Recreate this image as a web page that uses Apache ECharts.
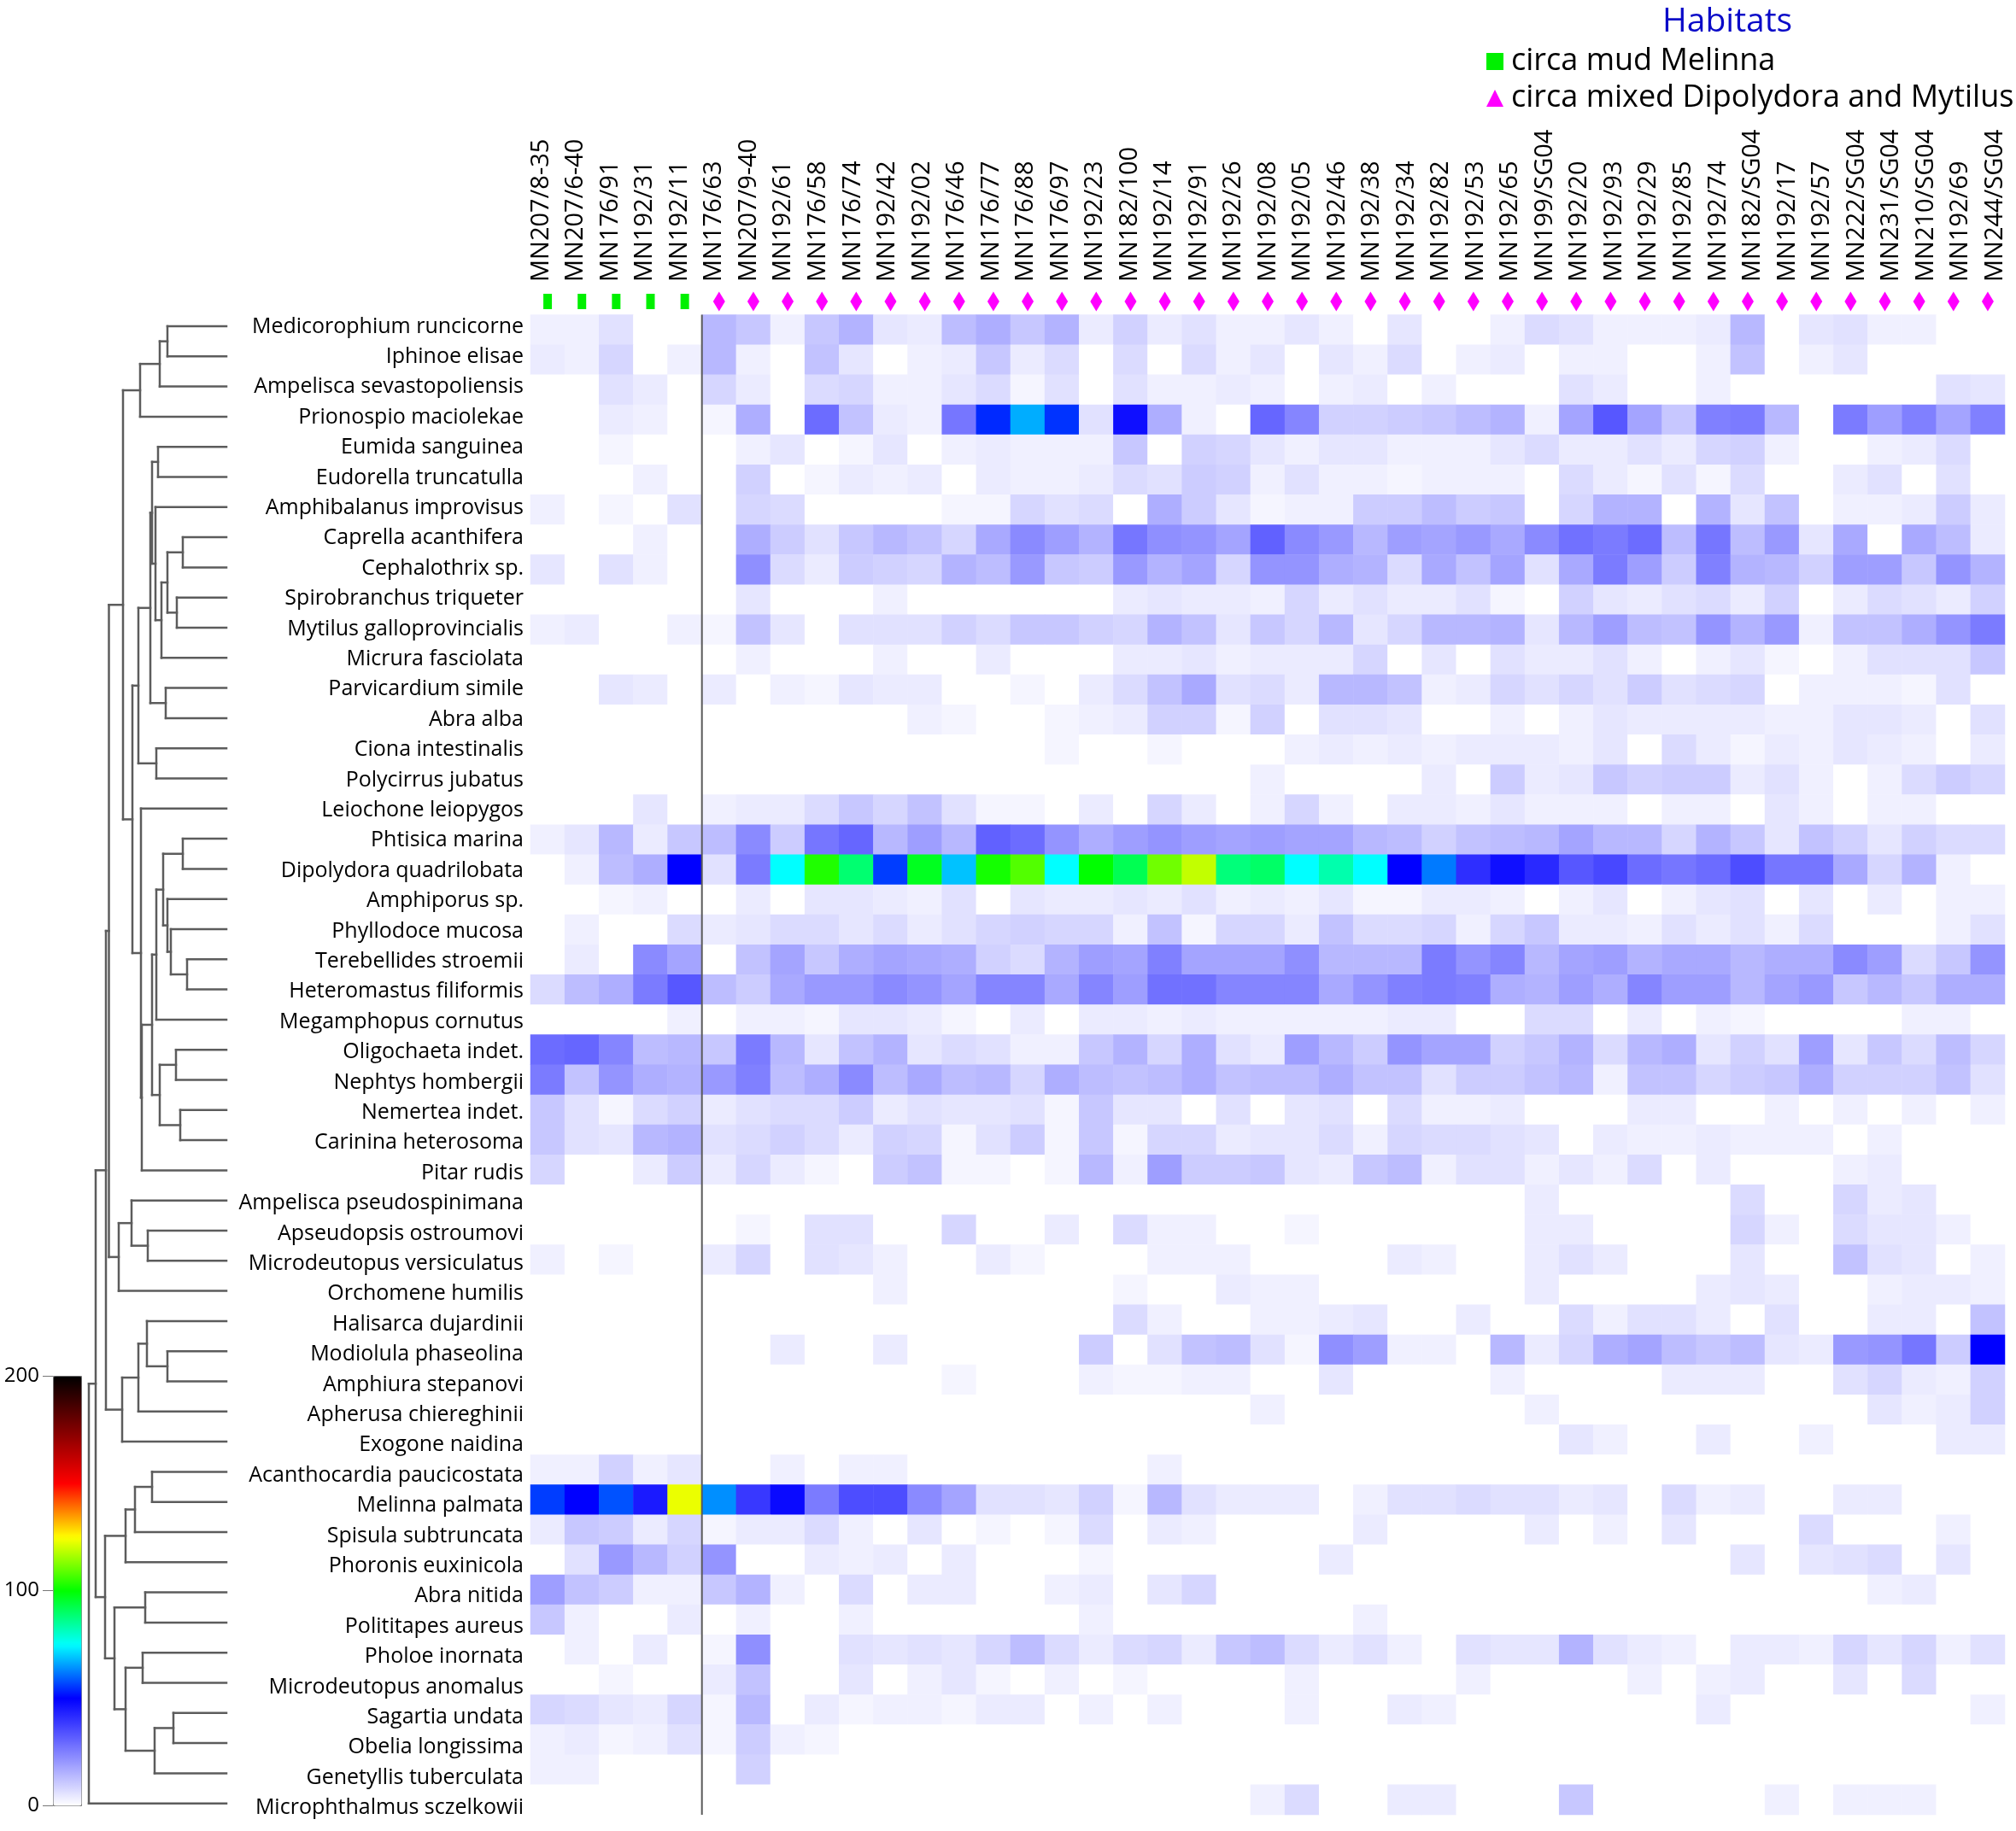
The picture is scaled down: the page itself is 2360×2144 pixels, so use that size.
<!DOCTYPE html>
<html><head><meta charset="utf-8">
<style>html,body{margin:0;padding:0;background:#fff}#c{width:2360px;height:2144px}</style>
<script src="https://cdn.jsdelivr.net/npm/echarts@6/dist/echarts.min.js"></script>
</head><body><div id="c"></div>
<script>
const samples = ['MN207/8-35','MN207/6-40','MN176/91','MN192/31','MN192/11','MN176/63','MN207/9-40','MN192/61','MN176/58','MN176/74','MN192/42','MN192/02','MN176/46','MN176/77','MN176/88','MN176/97','MN192/23','MN182/100','MN192/14','MN192/91','MN192/26','MN192/08','MN192/05','MN192/46','MN192/38','MN192/34','MN192/82','MN192/53','MN192/65','MN199/SG04','MN192/20','MN192/93','MN192/29','MN192/85','MN192/74','MN182/SG04','MN192/17','MN192/57','MN222/SG04','MN231/SG04','MN210/SG04','MN192/69','MN244/SG04'];
const habitatNames = ['circa mud Melinna','circa mixed Dipolydora and Mytilus'];
const mudSampleCount = 5;
const species = ['Medicorophium runcicorne','Iphinoe elisae','Ampelisca sevastopoliensis','Prionospio maciolekae','Eumida sanguinea','Eudorella truncatulla','Amphibalanus improvisus','Caprella acanthifera','Cephalothrix sp.','Spirobranchus triqueter','Mytilus galloprovincialis','Micrura fasciolata','Parvicardium simile','Abra alba','Ciona intestinalis','Polycirrus jubatus','Leiochone leiopygos','Phtisica marina','Dipolydora quadrilobata','Amphiporus sp.','Phyllodoce mucosa','Terebellides stroemii','Heteromastus filiformis','Megamphopus cornutus','Oligochaeta indet.','Nephtys hombergii','Nemertea indet.','Carinina heterosoma','Pitar rudis','Ampelisca pseudospinimana','Apseudopsis ostroumovi','Microdeutopus versiculatus','Orchomene humilis','Halisarca dujardinii','Modiolula phaseolina','Amphiura stepanovi','Apherusa chiereghinii','Exogone naidina','Acanthocardia paucicostata','Melinna palmata','Spisula subtruncata','Phoronis euxinicola','Abra nitida','Polititapes aureus','Pholoe inornata','Microdeutopus anomalus','Sagartia undata','Obelia longissima','Genetyllis tuberculata','Microphthalmus sczelkowii'];
const abundance = [
[3,3,6,0,0,14,11,3,11,15,5,4,13,16,11,15,4,9,4,6,3,3,5,3,0,5,0,0,3,7,6,3,3,3,4,14,0,5,6,3,3,0,0],
[4,3,8,0,3,14,3,0,12,5,0,3,4,11,4,7,0,7,0,7,3,5,0,5,3,7,0,3,4,0,3,3,0,0,3,12,0,3,5,0,0,0,0],
[0,0,6,4,0,8,4,0,7,8,3,3,5,7,2,6,0,6,3,3,4,3,0,3,4,0,3,0,0,0,6,4,0,0,3,0,0,0,0,0,0,6,5],
[0,0,4,3,0,2,16,0,29,12,4,3,27,54,67,55,6,47,16,3,0,30,24,9,9,10,11,13,15,3,18,33,18,11,25,26,14,0,26,19,25,18,25],
[0,0,2,0,0,0,3,5,0,2,5,0,3,4,3,3,3,11,0,9,8,5,3,5,5,3,3,3,5,7,4,4,6,4,8,9,3,0,0,3,4,7,0],
[0,0,0,3,0,0,9,0,2,4,3,4,0,4,3,3,4,7,6,10,9,3,6,3,3,2,3,3,3,0,7,4,2,6,2,7,0,0,4,6,0,6,0],
[3,0,2,0,6,0,8,7,0,0,0,0,2,2,8,6,7,0,16,10,5,2,3,3,10,10,13,10,11,0,8,15,15,0,15,5,12,0,3,3,4,10,4],
[0,0,0,3,0,0,16,10,6,11,14,12,8,17,23,19,15,27,22,21,18,31,23,20,14,19,18,20,17,23,28,26,29,13,27,13,20,5,17,0,17,13,4],
[5,0,6,3,0,0,22,7,4,10,9,8,15,13,20,11,10,20,15,18,8,21,21,16,15,7,17,12,18,6,17,26,19,10,25,15,14,9,19,19,11,21,15],
[0,0,0,0,0,0,5,0,0,0,3,0,0,0,0,0,0,4,5,4,4,3,8,4,6,4,4,6,2,0,9,5,4,6,7,4,9,0,4,7,6,4,9],
[3,4,0,0,3,2,12,5,0,6,6,6,9,7,11,11,9,8,15,12,5,11,8,14,5,8,14,14,15,5,14,19,13,12,21,15,20,3,12,12,16,21,26],
[0,0,0,0,0,0,3,0,0,0,3,0,0,4,0,0,0,4,4,5,3,4,4,4,8,0,5,0,6,4,4,6,3,0,3,5,2,0,3,6,6,6,11],
[0,0,5,4,0,4,0,3,2,5,4,4,0,0,2,0,4,7,12,17,6,7,4,14,14,12,3,4,8,6,8,6,10,6,7,8,0,3,3,3,2,6,0],
[0,0,0,0,0,0,0,0,0,0,0,3,2,0,0,2,3,4,9,9,2,9,0,6,6,5,0,0,3,0,3,5,4,4,4,4,3,3,5,5,4,0,6],
[0,0,0,0,0,0,0,0,0,0,0,0,0,0,0,2,0,0,2,0,0,0,3,4,3,4,3,4,4,4,3,5,0,7,4,2,4,3,5,4,3,0,4],
[0,0,0,0,0,0,0,0,0,0,0,0,0,0,0,0,0,0,0,0,0,3,0,0,0,0,4,0,10,4,5,11,9,10,10,4,6,3,0,3,7,10,8],
[0,0,0,5,0,3,4,4,7,11,8,12,6,2,2,0,4,0,8,4,0,3,8,3,0,4,4,3,5,3,3,3,0,3,3,0,5,3,0,3,3,0,0],
[3,5,14,4,11,13,23,10,27,30,14,19,14,31,29,21,16,19,21,19,18,19,18,18,14,13,9,12,13,14,18,14,14,8,15,11,5,12,9,5,9,7,7],
[0,3,13,16,50,6,26,75,103,89,56,97,69,102,108,75,100,92,111,119,88,90,75,83,75,50,62,41,47,42,33,36,29,27,29,35,27,27,17,8,15,3,0],
[0,0,2,3,0,0,4,0,5,5,4,3,6,0,5,4,4,5,4,6,3,4,3,5,2,2,4,4,3,0,3,5,0,3,5,6,0,5,0,4,0,3,3],
[0,3,0,0,7,4,5,7,7,5,7,4,6,8,9,8,8,3,12,2,8,8,4,12,7,7,8,3,8,11,4,4,3,6,4,6,3,7,0,0,0,3,6],
[0,4,0,23,18,0,12,18,11,16,18,17,16,9,7,15,19,18,25,18,18,18,22,14,14,14,26,21,24,14,18,19,15,17,17,14,16,16,23,19,7,11,21],
[7,13,16,26,33,13,10,17,20,20,23,21,18,24,24,17,24,19,28,28,24,24,24,17,21,25,26,25,16,15,19,16,24,19,19,14,18,20,11,14,11,16,16],
[0,0,0,0,3,0,3,3,2,5,5,4,2,0,4,0,4,4,3,4,3,3,3,3,3,4,4,0,0,7,7,0,4,0,3,2,0,0,0,0,3,3,0],
[29,30,24,13,14,11,26,14,5,12,15,5,7,6,3,3,11,15,8,16,6,4,19,14,10,21,18,18,9,11,15,7,14,16,5,9,6,19,5,11,7,13,8],
[26,12,21,16,15,20,25,13,16,23,13,17,13,14,8,16,13,12,13,16,12,13,13,16,12,12,6,10,10,12,14,3,12,12,8,10,11,16,9,9,9,12,6],
[11,6,2,7,9,4,6,7,7,10,4,6,5,5,6,2,11,5,5,0,6,0,5,6,0,7,3,3,4,0,0,0,4,4,0,0,3,0,3,0,3,0,3],
[11,6,5,14,15,6,7,9,7,4,9,8,2,6,10,2,11,2,8,8,4,5,5,7,3,8,7,7,6,5,0,4,3,3,4,3,3,3,0,3,0,0,0],
[8,0,0,4,10,4,8,4,2,0,10,12,2,2,0,2,14,3,19,10,10,11,5,4,11,13,3,6,6,3,5,3,7,0,4,0,0,0,3,4,0,0,0],
[0,0,0,0,0,0,0,0,0,0,0,0,0,0,0,0,0,0,0,0,0,0,0,0,0,0,0,0,0,4,0,0,0,0,0,7,0,0,8,4,5,0,0],
[0,0,0,0,0,0,2,0,6,6,0,0,8,0,0,4,0,7,3,3,0,0,2,0,0,0,0,0,0,4,4,0,0,0,0,8,3,0,7,5,5,3,0],
[3,0,2,0,0,4,8,0,6,5,3,0,0,4,2,0,0,0,3,3,3,0,0,0,0,4,3,0,0,4,6,4,0,0,0,5,0,0,12,6,5,0,3],
[0,0,0,0,0,0,0,0,0,0,3,0,0,0,0,0,0,2,0,0,4,3,3,0,0,0,0,0,0,4,0,0,0,0,4,5,4,0,0,3,4,4,3],
[0,0,0,0,0,0,0,0,0,0,0,0,0,0,0,0,0,7,3,0,0,3,3,4,5,0,0,4,0,0,7,3,6,6,4,0,6,0,0,4,4,0,12],
[0,0,0,0,0,0,0,4,0,0,4,0,0,0,0,0,10,0,6,12,13,6,2,22,19,3,3,0,14,4,8,16,18,13,11,13,5,4,20,21,27,10,50],
[0,0,0,0,0,0,0,0,0,0,0,0,2,0,0,0,3,2,2,3,3,0,0,5,0,0,0,0,3,0,0,0,0,4,4,4,0,0,6,8,4,3,9],
[0,0,0,0,0,0,0,0,0,0,0,0,0,0,0,0,0,0,0,0,0,3,0,0,0,0,0,0,0,3,0,0,0,0,0,0,0,0,0,5,3,4,9],
[0,0,0,0,0,0,0,0,0,0,0,0,0,0,0,0,0,0,0,0,0,0,0,0,0,0,0,0,0,0,5,3,0,0,4,0,0,3,0,0,0,4,4],
[3,3,9,3,5,0,0,3,0,3,3,0,0,0,0,0,0,0,3,0,0,0,0,0,0,0,0,0,0,0,0,0,0,0,0,0,0,0,0,0,0,0,0],
[56,50,58,45,123,64,39,48,26,35,35,23,18,6,6,5,9,2,14,6,4,4,4,0,3,6,6,7,6,6,4,5,0,7,3,4,0,0,4,4,0,0,0],
[4,11,10,4,8,2,4,4,7,3,0,5,0,2,0,2,7,0,4,3,0,0,0,0,4,0,0,0,0,4,0,3,0,5,0,0,0,7,0,0,0,3,0],
[0,6,20,14,9,21,0,0,4,3,4,0,4,0,0,0,2,0,0,0,0,0,0,4,0,0,0,0,0,0,0,0,0,0,0,5,0,5,6,7,0,5,0],
[19,12,10,3,3,11,15,3,0,7,0,4,4,0,0,3,4,0,5,8,0,0,0,0,0,0,0,0,0,0,0,0,0,0,0,0,0,0,0,3,4,0,0],
[11,3,0,0,4,0,3,0,0,3,0,0,0,0,0,0,3,0,0,0,0,0,0,0,3,0,0,0,0,0,0,0,0,0,0,0,0,0,0,0,0,0,0],
[0,3,0,4,0,2,22,0,0,6,5,6,5,8,13,7,4,7,8,4,11,13,7,4,6,3,0,6,5,5,15,6,4,3,0,4,4,3,8,5,8,3,6],
[0,0,2,0,0,4,12,0,0,5,0,3,5,2,0,3,0,2,0,0,0,0,3,0,0,0,0,3,0,0,0,0,3,0,3,4,0,0,5,0,7,0,0],
[8,7,5,4,8,2,14,0,4,2,3,3,2,4,4,0,3,0,3,0,0,0,3,0,0,4,3,0,0,0,0,0,0,0,4,0,0,0,0,0,0,0,3],
[3,4,2,3,6,2,10,3,2,0,0,0,0,0,0,0,0,0,0,0,0,0,0,0,0,0,0,0,0,0,0,0,0,0,0,0,0,0,0,0,0,0,0],
[3,3,0,0,0,0,9,0,0,0,0,0,0,0,0,0,0,0,0,0,0,0,0,0,0,0,0,0,0,0,0,0,0,0,0,0,0,0,0,0,0,0,0],
[0,0,0,0,0,0,0,0,0,0,0,0,0,0,0,0,0,0,0,0,0,3,7,0,0,4,4,0,0,0,11,0,0,0,0,0,3,0,3,3,3,0,0]
];
const colorScaleTicks = [0,100,200];
const colorScale = ['#ffffff','#8080ff','#0000ff','#00ffff','#00ff00','#ffff00','#ff0000','#800000','#000000'];
// [node, child, child, linkage height]; numeric children are row indices
const dendroMerges = [
['a1',0,1,96],['a2','a1',2,87],['a3','a2',3,64],
['b1',4,5,85],['b2',7,8,114],['b3',9,10,107],['b4','b2','b3',96],['b5','b4',11,89],['b6',6,'b5',82],['b7','b1','b6',78],['b8',12,13,94],['b9','b7','b8',76],['b10',14,15,83],['b11','b9','b10',62],
['c1',17,18,114],['c2',21,22,119],['c3',20,'c2',100],['c4',19,'c3',96],['c5','c1','c4',91],['c6','c5',23,83],
['c7',24,25,106],['c8',26,27,111],['c9','c7','c8',87],['c10','c6','c9',78],['c11','c10',28,66],['c12',16,'c11',65],
['d1','b11','c12',55],['d2','a3','d1',44],
['e1',30,31,73],['e2',29,'e1',54],['e3','e2',32,39],['d3','d2','e3',27.5],
['f1',34,35,96],['f2',33,'f1',72],['f3','f2',36,62],['f4','f3',37,43],['d4','d3','f4',24],
['g1',38,39,78],['g2','g1',40,58],['g3','g2',41,47],['g4',42,43,70],['g5',44,45,67],['g6',46,47,103],['g7','g6',48,81],['g8','g5','g7',47],['g9','g4','g8',34],['g10','g3','g9',23],
['d5','d4','g10',12],['root','d5',49,4]
];
const dendroLeafHeight = 165;

const heatData = [];
abundance.forEach((row, r) => row.forEach((v, c) => heatData.push([c, r, v])));

const nodes = {};
const childPos = k => typeof k === 'number' ? {h: dendroLeafHeight, y: k + 0.5} : nodes[k];
const segments = [];
dendroMerges.forEach(([name, a, b, h]) => {
  const A = childPos(a), B = childPos(b);
  segments.push([A.h, A.y, h, A.y], [B.h, B.y, h, B.y], [h, A.y, h, B.y]);
  nodes[name] = {h, y: (A.y + B.y) / 2};
});

const FONT = 'Open Sans';
const GRID = {left: 621, top: 368.5, width: 1726, height: 1756.5};

const option = {
  animation: false,
  backgroundColor: '#ffffff',
  title: {text: 'Habitats', left: 1946, top: 6, padding: 0,
    textStyle: {color: '#0a0ac8', fontFamily: FONT, fontSize: 39, fontWeight: 'normal'}},
  legend: {
    orient: 'vertical', left: 1740, top: 54, padding: 0, itemGap: 7, itemWidth: 20, itemHeight: 20,
    selectedMode: false,
    textStyle: {color: '#000', fontFamily: FONT, fontSize: 36, padding: [0,0,0,4]},
    data: [{name: habitatNames[0], icon: 'rect'}, {name: habitatNames[1], icon: 'triangle'}]
  },
  grid: [
    GRID,
    {left: 621, top: 341, width: 1726, height: 24},
    {left: 100, top: 364.35, width: 165, height: 1765},
    {left: 614, top: 364.8, width: 1, height: 1770},
    {left: 62, top: 1611, width: 33, height: 503},
    {left: 613.3, top: 341, width: 1742.4, height: 1}
  ],
  xAxis: [
    {gridIndex: 0, type: 'category', data: samples, show: false},
    {gridIndex: 1, type: 'category', data: samples, show: false},
    {gridIndex: 2, type: 'value', min: 0, max: dendroLeafHeight, show: false},
    {gridIndex: 3, type: 'value', min: 0, max: 1, show: false},
    {gridIndex: 4, type: 'value', min: 0, max: 1, show: false},
    {gridIndex: 0, type: 'value', min: 0, max: samples.length, show: false},
    {gridIndex: 5, type: 'category', data: samples, position: 'top',
      axisLine: {show: false}, axisTick: {show: false},
      axisLabel: {interval: 0, rotate: 90, margin: 11, fontFamily: FONT, fontSize: 29, color: '#000'}}
  ],
  yAxis: [
    {gridIndex: 0, type: 'category', data: species, inverse: true, show: false},
    {gridIndex: 1, type: 'category', data: ['habitat'], show: false},
    {gridIndex: 2, type: 'value', min: 0, max: species.length, inverse: true, show: false},
    {gridIndex: 3, type: 'category', data: species, inverse: true,
      axisLine: {show: false}, axisTick: {show: false},
      axisLabel: {interval: 0, margin: 1, fontFamily: FONT, fontSize: 25, color: '#000'}},
    {gridIndex: 4, type: 'value', min: colorScaleTicks[0], max: colorScaleTicks[2], interval: colorScaleTicks[1],
      splitLine: {show: false}, axisLine: {show: false},
      axisTick: {show: true, length: 12, lineStyle: {color: '#777', width: 1}},
      axisLabel: {margin: 16, fontFamily: FONT, fontSize: 24, color: '#000'}},
    {gridIndex: 0, type: 'value', min: 0, max: species.length, inverse: true, show: false},
    {gridIndex: 5, type: 'value', min: 0, max: 1, show: false}
  ],
  visualMap: {
    type: 'continuous', seriesIndex: 0, dimension: 2, min: 0, max: 200,
    calculable: false, showLabel: false, text: null, hoverLink: false,
    left: 62, top: 1611, itemWidth: 33, itemHeight: 503, padding: 0,
    borderColor: '#777', borderWidth: 1,
    inRange: {color: colorScale}
  },
  series: [
    {type: 'heatmap', xAxisIndex: 0, yAxisIndex: 0, data: heatData, silent: true, progressive: 0},
    {type: 'scatter', name: habitatNames[0], xAxisIndex: 1, yAxisIndex: 1, symbol: 'rect', symbolSize: [10, 18],
      itemStyle: {color: '#00f000', opacity: 1}, silent: true,
      data: samples.slice(0, mudSampleCount).map(s => [s, 'habitat'])},
    {type: 'scatter', name: habitatNames[1], xAxisIndex: 1, yAxisIndex: 1, symbol: 'diamond', symbolSize: [14, 23],
      itemStyle: {color: '#ff00ff', opacity: 1}, silent: true,
      data: samples.slice(mudSampleCount).map(s => [s, 'habitat'])},
    {type: 'custom', xAxisIndex: 2, yAxisIndex: 2, silent: true, clip: false,
      data: segments,
      renderItem: (params, api) => {
        const p = api.coord([api.value(0), api.value(1)]);
        const q = api.coord([api.value(2), api.value(3)]);
        return {type: 'line', shape: {x1: p[0], y1: p[1], x2: q[0], y2: q[1]},
          style: {stroke: '#5c5c5c', lineWidth: 2.5, lineCap: 'square'}};
      }},
    {type: 'line', xAxisIndex: 5, yAxisIndex: 5, silent: true, symbol: 'none', z: 5,
      lineStyle: {color: '#5a5a5a', width: 2},
      data: [[mudSampleCount, 0], [mudSampleCount, species.length]]}
  ]
};
const chart = echarts.init(document.getElementById('c'), null, {renderer: 'canvas'});
chart.setOption(option);
</script></body></html>
